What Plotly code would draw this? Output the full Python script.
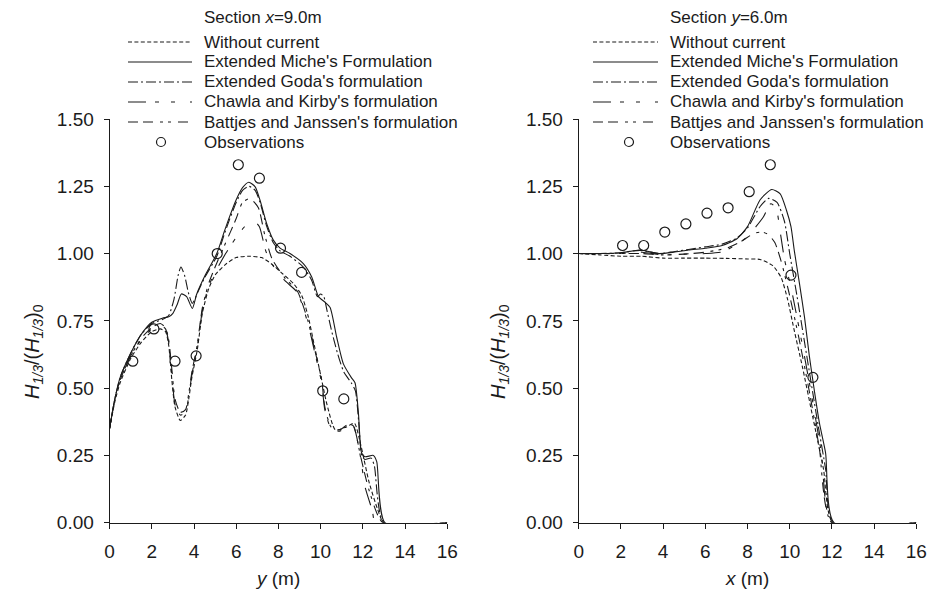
import plotly.graph_objects as go

# ---------------- Section x = 9.0 m (values along y) ----------------
sx_wo_x = [0, 0.25, 0.5, 1.0, 1.5, 2.0, 2.4, 2.65, 2.8, 2.95, 3.1, 3.35, 3.6, 3.75, 3.9, 4.15, 4.4, 4.7, 5.0, 5.5,
           6.0, 6.6, 7.2, 7.7, 8.2, 8.7, 9.1, 9.4, 9.7, 10.0, 10.3, 10.7, 11.2, 11.6, 11.9, 12.3, 12.7, 13.0, 16.0]
sx_wo_y = [0.35, 0.45, 0.52, 0.61, 0.67, 0.71, 0.72, 0.71, 0.66, 0.53, 0.43, 0.38, 0.40, 0.46, 0.54, 0.64, 0.78, 0.87,
           0.92, 0.96, 0.985, 0.99, 0.985, 0.96, 0.925, 0.89, 0.845, 0.77, 0.66, 0.55, 0.44, 0.345, 0.355, 0.37, 0.29,
           0.15, 0.05, 0.0, 0.0]

sx_mi_x = [0, 0.25, 0.5, 1.0, 1.5, 2.0, 2.5, 2.8, 3.0, 3.2, 3.4, 3.65, 3.92, 4.13, 4.5, 5.08, 5.45, 5.7, 6.0, 6.3,
           6.6, 6.9, 7.13, 7.45, 7.76, 8.08, 8.55, 9.18, 9.58, 9.9, 10.2, 10.45, 10.76, 11.08, 11.45, 11.63, 11.79,
           11.94, 12.1, 12.5, 12.66, 13.05, 16.0]
sx_mi_y = [0.35, 0.46, 0.54, 0.63, 0.70, 0.745, 0.76, 0.765, 0.778, 0.81, 0.85, 0.84, 0.796, 0.85, 0.915, 1.0, 1.085,
           1.14, 1.2, 1.245, 1.265, 1.248, 1.198, 1.11, 1.05, 1.02, 1.0, 0.963, 0.913, 0.84, 0.82, 0.80, 0.69, 0.59,
           0.54, 0.52, 0.41, 0.26, 0.245, 0.25, 0.227, 0.0, 0.0]

sx_go_x = [0, 0.25, 0.5, 1.0, 1.5, 2.0, 2.5, 2.8, 3.05, 3.25, 3.38, 3.55, 3.75, 3.92, 4.2, 4.5, 5.08, 5.45, 5.7, 6.0,
           6.3, 6.6, 6.9, 7.13, 7.45, 7.76, 8.08, 8.55, 9.18, 9.58, 9.85, 10.0, 10.15, 10.3, 10.5, 10.8, 11.1, 11.45,
           11.65, 11.8, 11.95, 12.1, 12.4, 12.55, 13.0, 16.0]
sx_go_y = [0.35, 0.46, 0.54, 0.63, 0.70, 0.74, 0.755, 0.77, 0.83, 0.92, 0.95, 0.92, 0.85, 0.815, 0.86, 0.91, 0.99,
           1.075, 1.13, 1.19, 1.235, 1.25, 1.235, 1.19, 1.10, 1.04, 1.01, 0.99, 0.95, 0.90, 0.84, 0.85, 0.84, 0.79,
           0.72, 0.63, 0.56, 0.52, 0.49, 0.38, 0.25, 0.235, 0.24, 0.21, 0.0, 0.0]

sx_ch_x = [0, 0.25, 0.5, 1.0, 1.5, 2.0, 2.4, 2.65, 2.8, 2.95, 3.1, 3.35, 3.6, 3.75, 3.9, 4.15, 4.4, 4.7, 5.0, 5.5,
           6.0, 6.4, 6.85, 7.1, 7.4, 7.7, 8.3, 8.9, 9.4, 9.7, 10.05, 10.2, 10.5, 10.9, 11.3, 11.55, 11.9, 12.1, 12.45,
           12.6, 16.0]
sx_ch_y = [0.35, 0.46, 0.53, 0.62, 0.68, 0.72, 0.735, 0.72, 0.67, 0.55, 0.44, 0.40, 0.41, 0.47, 0.55, 0.65, 0.79,
           0.88, 0.93, 1.0, 1.06, 1.10, 1.12, 1.10, 1.01, 0.96, 0.90, 0.855, 0.74, 0.64, 0.52, 0.42, 0.35, 0.34, 0.36,
           0.36, 0.24, 0.135, 0.045, 0.0, 0.0]

sx_bj_x = [0, 0.25, 0.5, 1.0, 1.5, 2.0, 2.4, 2.65, 2.8, 2.95, 3.1, 3.35, 3.6, 3.75, 3.9, 4.15, 4.4, 4.7, 5.0, 5.5,
           6.0, 6.3, 6.65, 7.05, 7.35, 7.7, 8.3, 8.9, 9.4, 9.7, 10.05, 10.2, 10.5, 10.9, 11.3, 11.55, 11.9, 12.3,
           12.95, 16.0]
sx_bj_y = [0.35, 0.46, 0.53, 0.62, 0.685, 0.725, 0.74, 0.725, 0.68, 0.57, 0.46, 0.41, 0.42, 0.48, 0.56, 0.66, 0.80,
           0.89, 0.95, 1.04, 1.13, 1.19, 1.205, 1.17, 1.07, 0.98, 0.91, 0.86, 0.75, 0.65, 0.53, 0.43, 0.355, 0.345,
           0.365, 0.36, 0.245, 0.12, 0.0, 0.0]

sx_obs_x = [1.1, 2.1, 3.1, 4.1, 5.1, 6.1, 7.1, 8.1, 9.1, 10.1, 11.1]
sx_obs_y = [0.60, 0.72, 0.60, 0.62, 1.00, 1.33, 1.28, 1.02, 0.93, 0.49, 0.46]

# ---------------- Section y = 6.0 m (values along x) ----------------
sy_wo_x = [0, 1, 2, 3, 4, 5, 6, 7, 8, 8.6, 9.2, 9.6, 9.9, 10.2, 10.6, 11.1, 11.6, 12.05, 16]
sy_wo_y = [1.0, 0.995, 0.99, 0.99, 0.983, 0.983, 0.983, 0.982, 0.98, 0.978, 0.955, 0.91, 0.83, 0.72, 0.58, 0.39,
           0.2, 0.0, 0.0]

sy_mi_x = [0, 1, 2, 2.9, 3.8, 4.5, 5.2, 6.0, 6.8, 7.5, 8.0, 8.6, 9.15, 9.55, 9.85, 10.06, 10.22, 10.46, 10.7,
           10.93, 11.17, 11.41, 11.7, 12.1, 16]
sy_mi_y = [1.0, 1.0, 1.003, 1.013, 1.0, 1.005, 1.013, 1.02, 1.03, 1.055, 1.10, 1.20, 1.238, 1.222, 1.16, 1.10,
           1.01, 0.89, 0.765, 0.62, 0.49, 0.37, 0.26, 0.0, 0.0]

sy_go_x = [0, 1, 2, 2.9, 3.8, 4.5, 5.2, 6.0, 6.8, 7.5, 8.0, 8.6, 9.0, 9.4, 9.75, 10.0, 10.35, 10.85, 11.35, 11.7,
           12.05, 16]
sy_go_y = [1.0, 1.0, 1.003, 1.012, 1.0, 1.007, 1.015, 1.025, 1.035, 1.058, 1.095, 1.175, 1.205, 1.19, 1.12, 1.0,
           0.84, 0.60, 0.36, 0.2, 0.0, 0.0]

sy_ch_x = [0, 1, 2, 3, 4, 5, 6, 6.8, 7.4, 8.0, 8.4, 8.75, 9.1, 9.35, 9.55, 9.75, 10.1, 10.6, 11.0, 11.5, 12.0, 16]
sy_ch_y = [1.0, 1.0, 1.0, 1.005, 0.995, 0.998, 1.0, 1.006, 1.03, 1.062, 1.10, 1.136, 1.185, 1.17, 1.08, 0.98, 0.86,
           0.66, 0.49, 0.26, 0.0, 0.0]

sy_bj_x = [0, 1, 2, 3, 4, 5, 6, 7, 7.7, 8.3, 8.7, 9.0, 9.3, 9.6, 9.95, 10.4, 10.9, 11.4, 12.0, 16]
sy_bj_y = [1.0, 1.0, 1.0, 1.0, 0.995, 0.998, 1.005, 1.02, 1.045, 1.075, 1.08, 1.07, 1.04, 0.97, 0.86, 0.70, 0.50,
           0.28, 0.0, 0.0]

sy_obs_x = [2.08, 3.08, 4.08, 5.08, 6.08, 7.08, 8.08, 9.08, 10.06, 11.1]
sy_obs_y = [1.03, 1.03, 1.08, 1.11, 1.15, 1.17, 1.23, 1.33, 0.92, 0.54]

# ---------------- labels ----------------
series_names = ["Without current", "Extended Miche's Formulation", "Extended Goda's formulation",
                "Chawla and Kirby's formulation", "Battjes and Janssen's formulation", "Observations"]
panel_titles = ["Section <i>x</i>=9.0m", "Section <i>y</i>=6.0m"]
x_titles = ["<i>y</i> (m)", "<i>x</i> (m)"]
y_title = "<i>H</i><sub><i>1/3</i></sub>/(<i>H</i><sub><i>1/3</i></sub>)<sub>0</sub>"
x_ticks = [0, 2, 4, 6, 8, 10, 12, 14, 16]
y_ticks = [0.0, 0.25, 0.5, 0.75, 1.0, 1.25, 1.5]

INK = "#1b1b1b"
FONT = "Liberation Sans, Arial, sans-serif"
DASHES = ["4px,2.4px", "solid", "10px,3px,2px,3px", "18px,9px,4px,12px,4px,15px",
          "10px,5px,10px,7px,3px,5px,3px,7px"]

W, H = 927, 592
fig = go.Figure()

panels = [
    ("x", "y", [(sx_wo_x, sx_wo_y), (sx_mi_x, sx_mi_y), (sx_go_x, sx_go_y), (sx_ch_x, sx_ch_y), (sx_bj_x, sx_bj_y)],
     (sx_obs_x, sx_obs_y)),
    ("x2", "y2", [(sy_wo_x, sy_wo_y), (sy_mi_x, sy_mi_y), (sy_go_x, sy_go_y), (sy_ch_x, sy_ch_y), (sy_bj_x, sy_bj_y)],
     (sy_obs_x, sy_obs_y)),
]

for xa, ya, curves, obs in panels:
    for (cx, cy), name, dash in zip(curves, series_names, DASHES):
        fig.add_trace(go.Scatter(x=cx, y=cy, mode="lines", name=name, showlegend=False, xaxis=xa, yaxis=ya,
                                 line=dict(color=INK, width=1.1, dash=dash, shape="spline", smoothing=0.6)))
    fig.add_trace(go.Scatter(x=obs[0], y=obs[1], mode="markers", name=series_names[5], showlegend=False,
                             xaxis=xa, yaxis=ya,
                             marker=dict(symbol="circle-open", size=10, color=INK, line=dict(width=1.2))))


def px(x):
    return x / W


def py(y):
    return 1 - y / H


axis_common = dict(range=[0, 16], showline=True, linecolor=INK, linewidth=1, ticks="outside", ticklen=5,
                   tickwidth=1, tickcolor=INK, showgrid=False, zeroline=False, tickvals=x_ticks,
                   automargin=False, ticklabelstandoff=6,
                   tickfont=dict(family=FONT, size=19, color=INK))
yaxis_common = dict(range=[0, 1.5], showline=True, linecolor=INK, linewidth=1, ticks="outside", ticklen=5,
                    tickwidth=1, tickcolor=INK, showgrid=False, zeroline=False, tickvals=y_ticks,
                    automargin=False, ticklabelstandoff=6,
                    tickformat=".2f", tickfont=dict(family=FONT, size=19, color=INK))

plot_left = [109.6, 578.7]
plot_w = 337.6
y_top, y_bot = 119.0, 522.7

fig.update_layout(
    width=W, height=H, margin=dict(l=0, r=0, t=0, b=0, pad=0), autosize=False,
    paper_bgcolor="white", plot_bgcolor="white", showlegend=False,
    xaxis=dict(domain=[px(plot_left[0]), px(plot_left[0] + plot_w)], anchor="y", **axis_common),
    yaxis=dict(domain=[py(y_bot), py(y_top)], anchor="x", **yaxis_common),
    xaxis2=dict(domain=[px(plot_left[1]), px(plot_left[1] + plot_w)], anchor="y2", **axis_common),
    yaxis2=dict(domain=[py(y_bot), py(y_top)], anchor="x2", **yaxis_common),
)

shapes = []
annotations = []

# Legend blocks, one per panel
legend_geo = [dict(line0=128, line1=192, text=202, mark=161), dict(line0=593, line1=658, text=668, mark=629)]
row_y = [42, 62, 82, 102, 122, 142]
for g, title in zip(legend_geo, panel_titles):
    annotations.append(dict(x=px(g["text"]), y=py(18), xref="paper", yref="paper", text=title, showarrow=False,
                            xanchor="left", yanchor="middle", font=dict(family=FONT, size=17, color=INK)))
    for i, name in enumerate(series_names):
        yy = row_y[i]
        if i < 5:
            shapes.append(dict(type="line", xref="paper", yref="paper", x0=px(g["line0"]), x1=px(g["line1"]),
                               y0=py(yy), y1=py(yy), line=dict(color=INK, width=1.1, dash=DASHES[i])))
        else:
            r = 4.5
            shapes.append(dict(type="circle", xref="paper", yref="paper", x0=px(g["mark"] - r), x1=px(g["mark"] + r),
                               y0=py(yy - r), y1=py(yy + r), line=dict(color=INK, width=1.2)))
        annotations.append(dict(x=px(g["text"]), y=py(yy), xref="paper", yref="paper", text=name, showarrow=False,
                                xanchor="left", yanchor="middle", font=dict(family=FONT, size=17, color=INK)))

# Axis titles
for i in range(2):
    annotations.append(dict(x=px(plot_left[i] + plot_w / 2 - 0.5), y=py(578), xref="paper", yref="paper",
                            text=x_titles[i], showarrow=False, xanchor="center", yanchor="middle",
                            font=dict(family=FONT, size=19, color=INK)))
for xc in [33, 499]:
    annotations.append(dict(x=px(xc), y=py(352), xref="paper", yref="paper", text=y_title, showarrow=False,
                            textangle=-90, xanchor="center", yanchor="middle",
                            font=dict(family=FONT, size=20, color=INK)))

fig.update_layout(shapes=shapes, annotations=annotations)
fig.write_html("out.html")
